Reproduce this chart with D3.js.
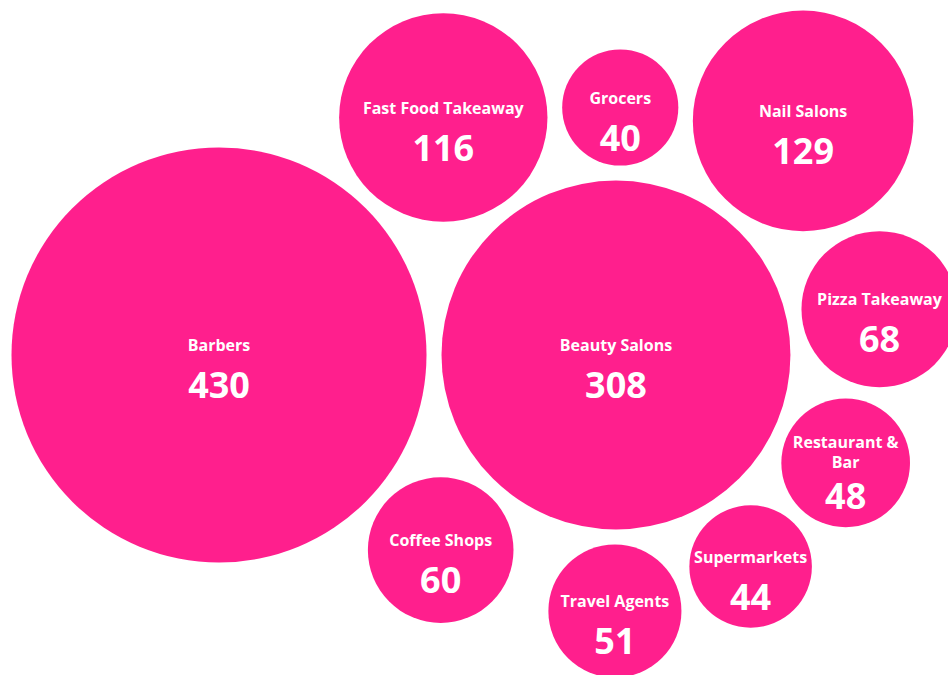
<!DOCTYPE html>
<html>
<head>
<meta charset="utf-8">
<script src="https://cdn.jsdelivr.net/npm/d3@7"></script>
<style>
  html, body { margin: 0; padding: 0; background: #ffffff; overflow: hidden; }
  svg { display: block; }
  text { font-family: "Open Sans", "Lato", sans-serif; fill: #ffffff; }
</style>
</head>
<body>
<div id="chart"></div>
<script>
// カテゴリと件数
var categories = ["Barbers", "Beauty Salons", "Coffee Shops", "Fast Food Takeaway", "Grocers",
                  "Nail Salons", "Pizza Takeaway", "Restaurant & Bar", "Supermarkets", "Travel Agents"];
var counts = [430, 308, 60, 116, 40, 129, 68, 48, 44, 51];

var width = 948, height = 675;
var inset = 7.5;           // 円同士のすき間の半分
var anchor = [219, 355];   // 最初の円の中心

var svg = d3.select("#chart")
    .append("svg")
    .attr("width", width)
    .attr("height", height);

// 面積を件数に比例させる
var rScale = d3.scaleSqrt()
    .domain([0, d3.max(counts)])
    .range([0, 215]);

var nodes = categories.map(function(d, i) {
    return {name: d, value: counts[i], r: rScale(counts[i])};
});

// 2つの円に接する円の中心 (sign で側を選ぶ)
function tangent(p, q, r, sign) {
    var dx = q.x - p.x, dy = q.y - p.y, d = Math.sqrt(dx * dx + dy * dy);
    var a = p.r + r, b = q.r + r;
    var t = (a * a - b * b + d * d) / (2 * d);
    var h = Math.sqrt(Math.max(0, a * a - t * t));
    var ux = dx / d, uy = dy / d;
    return {x: p.x + ux * t - sign * uy * h, y: p.y + uy * t + sign * ux * h};
}

// 1,2番目を横に並べ、3番目は下、4番目は上、残りは2番目の円の周りに時計回り
function layout(nodes) {
    var a = nodes[0], b = nodes[1];
    a.x = 0; a.y = 0;
    b.x = a.r + b.r; b.y = 0;
    var prev = null;
    nodes.slice(2).forEach(function(n, i) {
        var p;
        if (i === 0) p = tangent(a, b, n.r, 1);
        else if (i === 1) p = tangent(a, b, n.r, -1);
        else p = tangent(b, prev, n.r, 1);
        n.x = p.x; n.y = p.y;
        prev = n;
    });
}
layout(nodes);

var g = svg.append("g")
    .attr("transform", "translate(" + anchor[0] + "," + anchor[1] + ")");

var bubble = g.selectAll("g.bubble")
    .data(nodes)
    .enter()
    .append("g")
    .attr("class", "bubble")
    .attr("transform", function(d) { return "translate(" + d.x + "," + d.y + ")"; });

bubble.append("circle")
    .attr("r", function(d) { return d.r - inset; })
    .attr("fill", "#ff1f8d");

// ラベル（円に収まらなければ折り返す）
var label = bubble.append("text")
    .attr("text-anchor", "middle")
    .style("font-size", "16px")
    .style("font-weight", 700);

label.each(function(d) {
    var t = d3.select(this);
    var maxW = (d.r - inset) * 2 * 0.97;
    var words = d.name.split(" ");
    var lines = [];
    var line = [];
    var probe = t.append("tspan");
    words.forEach(function(w) {
        var test = line.concat([w]).join(" ");
        probe.text(test);
        if (probe.node().getComputedTextLength() > maxW && line.length) {
            lines.push(line.join(" "));
            line = [w];
        } else {
            line.push(w);
        }
    });
    lines.push(line.join(" "));
    probe.remove();
    d.lines = lines.length;
    var lh = 20;
    var y0 = -4 - (lines.length - 1) * 11;
    lines.forEach(function(l, i) {
        t.append("tspan")
            .attr("x", 0)
            .attr("y", y0 + i * lh)
            .text(l);
    });
});

bubble.append("text")
    .attr("text-anchor", "middle")
    .attr("y", function(d) { return d.lines > 1 ? 46 : 43; })
    .style("font-size", "36px")
    .style("font-weight", 700)
    .text(function(d) { return d.value; });
</script>
</body>
</html>
